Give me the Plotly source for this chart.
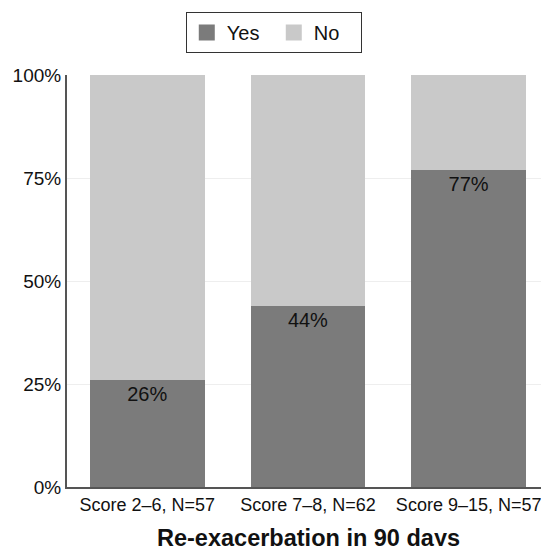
import plotly.graph_objects as go

categories = ["Score 2–6, N=57", "Score 7–8, N=62", "Score 9–15, N=57"]
yes_vals = [26, 44, 77]
no_vals = [74, 56, 23]
tick_vals = [0, 25, 50, 75, 100]
tick_text = ["0%", "25%", "50%", "75%", "100%"]
yes_color = "#7b7b7b"
no_color = "#c9c9c9"
x_title = "Re-exacerbation in 90 days"

fig = go.Figure()
fig.add_trace(go.Bar(
    x=categories, y=yes_vals, name="Yes", showlegend=False,
    marker=dict(color=yes_color, line=dict(width=0)),
    text=[f"{v}%" for v in yes_vals], textposition="inside",
    insidetextanchor="end",
    textfont=dict(color="#111111", size=20, family="Liberation Sans, Arial"),
))
fig.add_trace(go.Bar(
    x=categories, y=no_vals, name="No", showlegend=False,
    marker=dict(color=no_color, line=dict(width=0)),
    hoverinfo="skip",
))
# legend entries
for nm, col in [("Yes", yes_color), ("No", no_color)]:
    fig.add_trace(go.Scatter(
        x=[None], y=[None], mode="markers", name=nm,
        marker=dict(symbol="square", size=18, color=col),
    ))

fig.update_layout(
    barmode="stack",
    bargap=0.285,
    width=541, height=538,
    margin=dict(l=59, r=0, t=67, b=59, autoexpand=False),
    plot_bgcolor="white", paper_bgcolor="white",
    font=dict(family="Liberation Sans, Arial", color="#111111"),
    showlegend=True,
    legend=dict(
        orientation="h", x=0.429, xanchor="center", y=1.153, yanchor="top",
        bordercolor="#333333", borderwidth=1,
        font=dict(size=20), itemwidth=30, traceorder="normal",
        itemsizing="trace", entrywidth=42,
    ),
    xaxis=dict(
        showline=True, linecolor="#555555", linewidth=2,
        ticks="", tickfont=dict(size=18),
        automargin=False,
    ),
    yaxis=dict(
        range=[0, 100], tickvals=tick_vals, ticktext=tick_text,
        showline=True, linecolor="#555555", linewidth=2,
        showgrid=True, gridcolor="#eeeeee", gridwidth=1,
        tickfont=dict(size=19), ticks="", zeroline=False,
        automargin=False,
    ),
    annotations=[dict(
        text=f"<b>{x_title}</b>", xref="paper", yref="paper",
        x=0.5, y=-0.124, xanchor="center", yanchor="middle",
        showarrow=False, font=dict(size=23.5, color="#111111"),
    )],
)

fig.write_html("out.html")
